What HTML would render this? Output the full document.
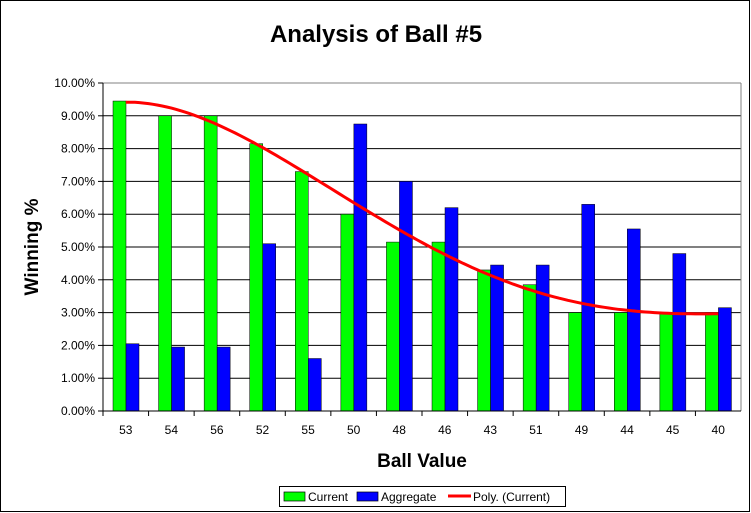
<!DOCTYPE html>
<html><head><meta charset="utf-8"><style>
body{margin:0;background:#fff}
svg{display:block;font-family:"Liberation Sans",Arial,sans-serif}
</style></head><body>
<svg id="c" width="751" height="513">
<rect x="0.5" y="0.5" width="749" height="511" fill="#fff" stroke="#000"/>
<text x="376" y="42" font-size="24" font-weight="bold" text-anchor="middle">Analysis of Ball #5</text>
<text transform="translate(38,247) rotate(-90)" font-size="19" font-weight="bold" text-anchor="middle">Winning %</text>
<text x="422" y="467" font-size="19" font-weight="bold" text-anchor="middle">Ball Value</text>
<g id="grid"></g><g id="bars"></g><g id="trend"></g><g id="axes"></g>
<g>
<rect x="279.5" y="486.5" width="286" height="20" fill="#fff" stroke="#000"/>
<rect x="284" y="492" width="21" height="9" fill="#00ff00" stroke="#000" stroke-width="0.7"/>
<text x="308" y="501" font-size="12">Current</text>
<rect x="357" y="492" width="21" height="9" fill="#0000ff" stroke="#000" stroke-width="0.7"/>
<text x="381" y="501" font-size="12">Aggregate</text>
<line x1="448" y1="496" x2="471" y2="496" stroke="#ff0000" stroke-width="3"/>
<text x="473" y="501" font-size="12">Poly. (Current)</text>
</g>
</svg>
<script>
const categories=["53","54","56","52","55","50","48","46","43","51","49","44","45","40"];
const currentValues=[9.45,9.0,9.0,8.15,7.3,6.0,5.15,5.15,4.3,3.85,3.0,3.0,3.0,3.0];
const aggregateValues=[2.05,1.95,1.95,5.1,1.6,8.75,7.0,6.2,4.45,4.45,6.3,5.55,4.8,3.15];
const yTicks=[0,1,2,3,4,5,6,7,8,9,10];
const NS="http://www.w3.org/2000/svg";
const L=103,R=741,T=83,B=411,cw=(R-L)/categories.length;
const y=v=>B-(v/10)*(B-T);
const x=i=>L+i*cw;
function mk(p,tag,a){const e=document.createElementNS(NS,tag);for(const k in a)e.setAttribute(k,a[k]);document.getElementById(p).appendChild(e);return e;}
yTicks.forEach(t=>{
 const g=mk('grid','line',{x1:L,x2:R,y1:y(t),y2:y(t),stroke:t==10?'#808080':'#000','stroke-width':1});
 
 
 const tk=mk('axes','line',{x1:L-5,x2:L,y1:y(t),y2:y(t),stroke:'#000'});
 
 
 const tx=mk('axes','text',{x:L-8,y:y(t)+4,'font-size':12,'text-anchor':'end'});
 tx.textContent=t.toFixed(2)+'%';
 
 
});
const ax=mk('axes','line',{x1:L,x2:L,y1:T,y2:B,stroke:'#000'});


const rb=mk('axes','line',{x1:R,x2:R,y1:T,y2:B,stroke:'#808080'});


categories.forEach((c,i)=>{
 const g=mk('bars','rect',{x:x(i)+10,y:y(currentValues[i]),width:13,height:B-y(currentValues[i]),fill:'#00ff00',stroke:'#000','stroke-width':0.5});
 
 
 const b=mk('bars','rect',{x:x(i)+23,y:y(aggregateValues[i]),width:13,height:B-y(aggregateValues[i]),fill:'#0000ff',stroke:'#000','stroke-width':0.5});
 
 
 const tk=mk('axes','line',{x1:x(i),x2:x(i),y1:B,y2:B+5,stroke:'#000'});
 
 
 const tx=mk('axes','text',{x:x(i)+cw/2,y:B+23,'font-size':12,'text-anchor':'middle'});
 tx.textContent=c;
 
 
});
const xa=mk('axes','line',{x1:L,x2:R,y1:B,y2:B,stroke:'#000'});


// polynomial least-squares fit (order 4) on current values
const n=currentValues.length,deg=4,m=deg+1;
const A=[];for(let r=0;r<m;r++){A.push(new Array(m+1).fill(0));}
for(let i=0;i<n;i++){const X=(i+1)/n;for(let r=0;r<m;r++){for(let c=0;c<m;c++)A[r][c]+=Math.pow(X,r+c);A[r][m]+=currentValues[i]*Math.pow(X,r);}}
for(let p=0;p<m;p++){let mx=p;for(let r=p+1;r<m;r++)if(Math.abs(A[r][p])>Math.abs(A[mx][p]))mx=r;[A[p],A[mx]]=[A[mx],A[p]];
 for(let r=0;r<m;r++){if(r==p)continue;const f=A[r][p]/A[p][p];for(let c=p;c<=m;c++)A[r][c]-=f*A[p][c];}}
const coef=A.map((r,i)=>r[m]/r[i]);
let d='';for(let k=0;k<=130;k++){const X=1+(n-1)*k/130;let v=0;coef.forEach((c,j)=>v+=c*Math.pow(X/n,j));d+=(k?'L':'M')+(x(X-1)+cw/2).toFixed(1)+','+y(v).toFixed(1);}
const tl=mk('trend','path',{d:d,fill:'none',stroke:'#ff0000','stroke-width':3});


</script>
</body></html>
